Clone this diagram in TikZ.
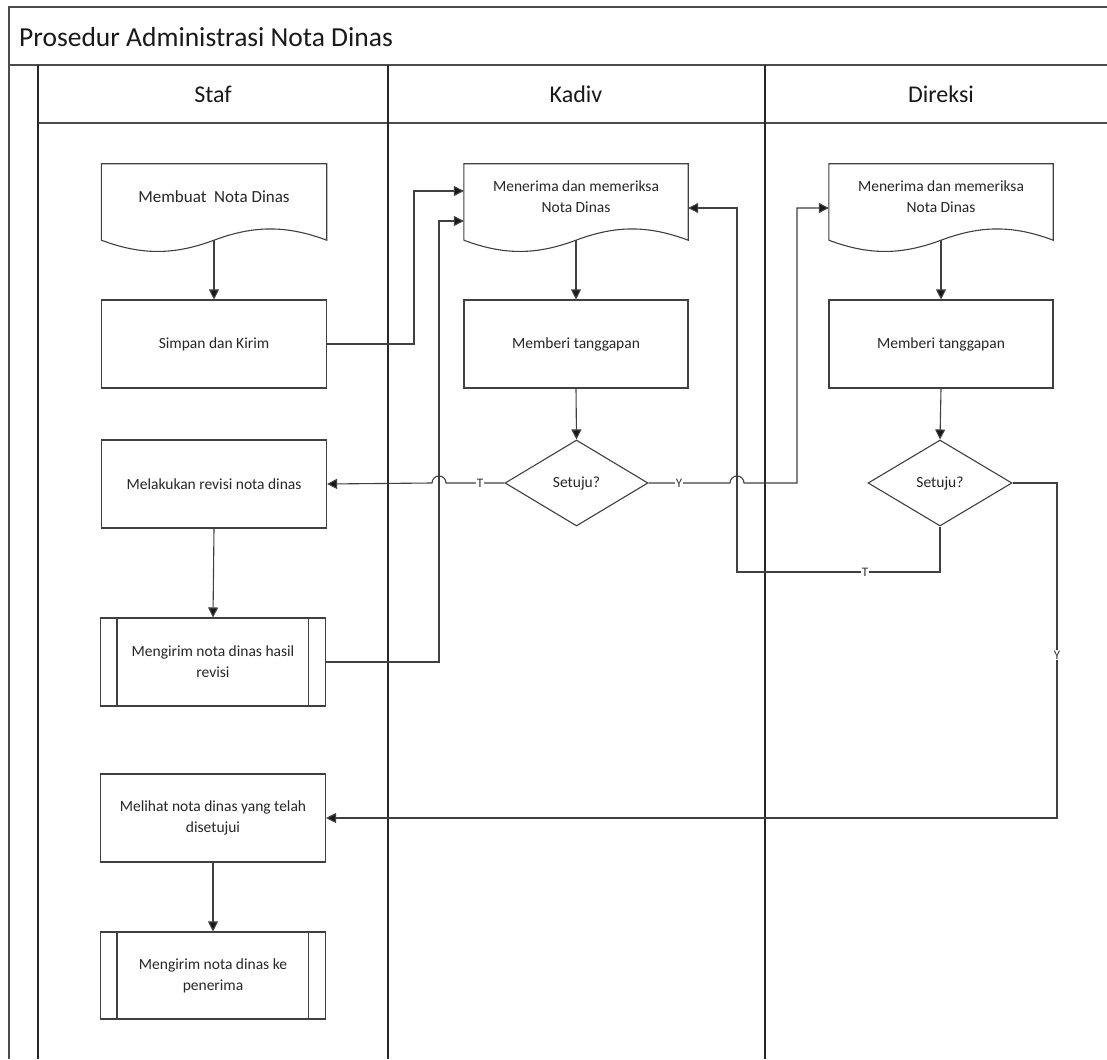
\documentclass[tikz,border=0pt]{standalone}
\usepackage{fontspec}
\setmainfont{Carlito}
\usetikzlibrary{arrows.meta,shapes.geometric,calc}
\newcommand\docshape[1]{%
  \draw[shp] ([yshift=-10pt]#1.south west) -- (#1.north west) -- (#1.north east) -- ([yshift=-10pt]#1.south east)
    .. controls +(-40,-15) and +(40,-15) .. ([yshift=-10pt]#1.south)
    .. controls +(-40,15) and +(40,15) .. ([yshift=-10pt]#1.south west);}
\newcommand\subprocbars[1]{%
  \draw[shp] ([xshift=17pt]#1.north west) -- ([xshift=17pt]#1.south west);
  \draw[shp] ([xshift=-18pt]#1.north east) -- ([xshift=-18pt]#1.south east);}
\begin{document}
\begin{tikzpicture}[x=1pt,y=-1pt,
  frame/.style={draw=black!70,line width=1.6pt},
  lane/.style={draw=black!85,line width=1.2pt},
  shp/.style={draw=black!75,line width=1.1pt},
  txt/.style={font=\fontsize{15.5}{21}\selectfont,text=black!85,align=center},
  box/.style={shp,txt,minimum width=225pt,minimum height=88pt,inner sep=2pt},
  doc/.style={txt,minimum width=225pt,minimum height=66pt,inner sep=2pt},
  dia/.style={shp,txt,diamond,minimum width=143pt,minimum height=86pt,inner sep=0pt},
  hdr/.style={font=\fontsize{24}{28}\selectfont,text=black!90},
  conn/.style={draw=black!75,line width=1.1pt},
  arr/.style={conn,-{Triangle[length=10pt,width=10pt,fill=black!90]}},
  lbl/.style={fill=white,inner sep=1pt,font=\fontsize{13}{15}\selectfont,text=black!80}
]
\useasboundingbox (0,0) rectangle (1107,1059);
\fill[white] (0,0) rectangle (1107,1059);

% pool frame and lanes
\draw[frame] (1107,7) -- (9,7) -- (9,1059);
\draw[frame] (9,65) -- (1107,65);
\draw[frame] (38,123) -- (1107,123);
\draw[lane] (38,65) -- (38,1059);
\draw[lane] (388,65) -- (388,1059);
\draw[lane] (765,65) -- (765,1059);

\node[anchor=west,inner sep=0pt,font=\fontsize{27.5}{31}\selectfont,text=black!90] (title) at (19,37) {Prosedur Administrasi Nota Dinas};
\node[hdr] (hstaf) at (213,94) {Staf};
\node[hdr] (hkadiv) at (576,94) {Kadiv};
\node[hdr] (hdireksi) at (941,94) {Direksi};

% Staf
\node[doc,font=\fontsize{17}{21}\selectfont] (buat) at (214,197) {Membuat~ Nota Dinas};
\docshape{buat}
\node[box] (simpan) at (214,344) {Simpan dan Kirim};
\node[box] (revisi) at (214,484) {Melakukan revisi nota dinas};
\node[box] (hasil) at (213,662) {Mengirim nota dinas hasil\\revisi};
\subprocbars{hasil}
\node[box] (lihat) at (213,818) {Melihat nota dinas yang telah\\disetujui};
\node[box,minimum height=87pt] (kirim) at (213,975.5) {Mengirim nota dinas ke\\penerima};
\subprocbars{kirim}

% Kadiv
\node[doc,minimum width=224pt] (kdoc) at (576,197) {Menerima dan memeriksa\\Nota Dinas};
\docshape{kdoc}
\node[box,minimum width=224pt] (kmem) at (576,344) {Memberi tanggapan};
\node[dia] (kdia) at (576.5,483) {Setuju?};

% Direksi
\node[doc,minimum width=224pt] (ddoc) at (941,197) {Menerima dan memeriksa\\Nota Dinas};
\docshape{ddoc}
\node[box,minimum width=224pt] (dmem) at (941,344) {Memberi tanggapan};
\node[dia,minimum width=144pt] (ddia) at (940,483) {Setuju?};

% vertical flow arrows
\draw[arr] ([yshift=-10pt]buat.south) -- (simpan.north);
\draw[arr] (revisi.south) -- (hasil.north);
\draw[arr] (lihat.south) -- (kirim.north);
\draw[arr] ([yshift=-10pt]kdoc.south) -- (kmem.north);
\draw[arr] (kmem.south) -- (kdia.north);
\draw[arr] ([yshift=-10pt]ddoc.south) -- (dmem.north);
\draw[arr] (dmem.south) -- (ddia.north);

% loops into Kadiv document
\draw[arr] (simpan.east) -- (414,344) |- ([yshift=6pt]kdoc.west);
\draw[arr] (hasil.east) -- (439,662) |- ([yshift=-24pt]kdoc.west);

% Kadiv decision T (with jump over x=439)
\draw[arr] (kdia.west) -- (446,483) arc[start angle=0,end angle=180,radius=7pt] -- (revisi.east);
\node[lbl] (kt) at (480,483) {T};

% Kadiv decision Y (with jump over x=737)
\draw[arr] (kdia.east) -- (730,483) arc[start angle=180,end angle=0,radius=7pt] -- (797,483) |- ([yshift=-11pt]ddoc.west);
\node[lbl] (ky) at (679,483) {Y};

% Direksi decision T back to Kadiv
\draw[arr] (ddia.south) |- (737,572) |- ([yshift=-11pt]kdoc.east);
\node[lbl] (dt) at (865,572) {T};

% Direksi decision Y to Staf
\draw[arr] (ddia.east) -- (1057,483) |- (lihat.east);
\node[lbl] (dy) at (1057,655) {Y};
\end{tikzpicture}
\end{document}
